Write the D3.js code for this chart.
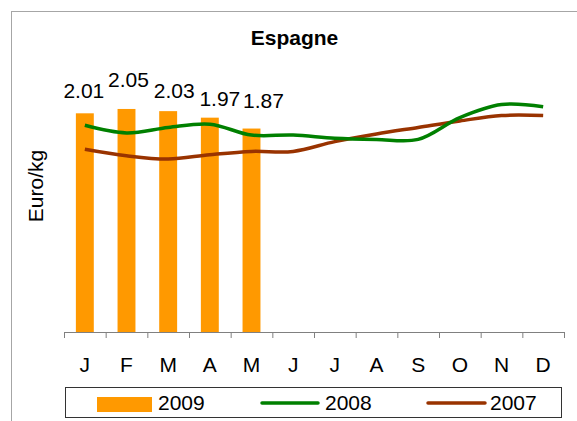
<!DOCTYPE html>
<html>
<head>
<meta charset="utf-8">
<script src="https://cdn.jsdelivr.net/npm/d3@7"></script>
<style>
  body { margin: 0; background: #fff; }
  svg { display: block; font-family: "Liberation Sans", Arial, sans-serif; }
</style>
</head>
<body>
<script>
// Chart data (Euro/kg)
var months = ["J", "F", "M", "A", "M", "J", "J", "A", "S", "O", "N", "D"];
var prix2009 = [2.01, 2.05, 2.03, 1.97, 1.87];
var prix2008 = [1.90, 1.83, 1.88, 1.91, 1.81, 1.81, 1.78, 1.77, 1.77, 1.97, 2.09, 2.07];
var prix2007 = [1.68, 1.62, 1.59, 1.63, 1.66, 1.66, 1.75, 1.82, 1.88, 1.94, 1.99, 1.99];
var seriesNames = ["2009", "2008", "2007"];

// label nudges (Excel labels were moved by hand)
var labelDx = [-1, 2, 6, 10, 12];
var labelDy = [-15, -22, -13, -12, -21];

var svgWidth = 577;
var svgHeight = 421;

var plot = { left: 64, right: 564, top: 60, bottom: 332 };

var colors = { bar: "#FF9900", l2008: "#008000", l2007: "#993300" };

var svg = d3.select("body")
    .append("svg")
    .attr("width", svgWidth)
    .attr("height", svgHeight);

// outer frame (cut at the right and bottom edges)
svg.append("rect")
    .attr("x", 11.5)
    .attr("y", 11.5)
    .attr("width", 620)
    .attr("height", 500)
    .attr("fill", "#fff")
    .attr("stroke", "#a6a6a6")
    .attr("stroke-width", 1);

var x = d3.scaleBand()
    .domain(d3.range(months.length))
    .range([plot.left, plot.right]);

var xEdge = d3.scaleLinear()
    .domain([0, months.length])
    .range([plot.left, plot.right]);

var y = d3.scaleLinear()
    .domain([0, 2.5])
    .range([plot.bottom, plot.top]);

var barW = x.bandwidth() * 0.43;
var cx = function(i) { return x(i) + x.bandwidth() / 2; };

// title
svg.append("text")
    .attr("x", 294.5)
    .attr("y", 45)
    .attr("text-anchor", "middle")
    .style("font-size", "21px")
    .style("font-weight", "bold")
    .text("Espagne");

// y label
svg.append("text")
    .attr("transform", "translate(43, 186) rotate(-90)")
    .attr("text-anchor", "middle")
    .style("font-size", "21px")
    .text("Euro/kg");

// bars 2009
svg.selectAll(".bar")
    .data(prix2009)
    .enter()
    .append("rect")
    .attr("class", "bar")
    .attr("x", (d, i) => cx(i) - barW / 2)
    .attr("y", d => y(d))
    .attr("width", barW)
    .attr("height", d => y(0) - y(d))
    .attr("fill", colors.bar);

// lines
var line = d3.line()
    .x((d, i) => cx(i))
    .y(d => y(d))
    .curve(d3.curveCatmullRom.alpha(0.5));

svg.append("path")
    .datum(prix2007)
    .attr("d", line)
    .attr("fill", "none")
    .attr("stroke", colors.l2007)
    .attr("stroke-width", 3.5)
    .attr("stroke-linejoin", "round");

svg.append("path")
    .datum(prix2008)
    .attr("d", line)
    .attr("fill", "none")
    .attr("stroke", colors.l2008)
    .attr("stroke-width", 3.5)
    .attr("stroke-linejoin", "round");

// value labels
svg.selectAll(".val")
    .data(prix2009)
    .enter()
    .append("text")
    .attr("class", "val")
    .attr("x", (d, i) => cx(i) + labelDx[i])
    .attr("y", (d, i) => y(d) + labelDy[i])
    .attr("text-anchor", "middle")
    .style("font-size", "21px")
    .text(d => d.toFixed(2));

// x axis: ticks at band edges, labels in the middle
var axisG = svg.append("g")
    .attr("transform", "translate(0," + plot.bottom + ")");

axisG.call(d3.axisBottom(xEdge).ticks(months.length).tickSize(6).tickFormat(""))
    .call(g => g.select(".domain").attr("stroke", "#808080").attr("d", "M" + plot.left + ",0.5H" + plot.right))
    .call(g => g.selectAll(".tick line").attr("stroke", "#808080"));

svg.append("g")
    .selectAll("text")
    .data(months)
    .enter()
    .append("text")
    .attr("x", (d, i) => cx(i))
    .attr("y", 372)
    .attr("text-anchor", "middle")
    .style("font-size", "21px")
    .text(d => d);

// legend
var legend = svg.append("g");
legend.append("rect")
    .attr("x", 65.5)
    .attr("y", 387.5)
    .attr("width", 496)
    .attr("height", 30)
    .attr("fill", "#fff")
    .attr("stroke", "#333")
    .attr("stroke-width", 1);

legend.append("rect")
    .attr("x", 97)
    .attr("y", 397)
    .attr("width", 55)
    .attr("height", 15)
    .attr("fill", colors.bar);

legend.append("line")
    .attr("x1", 262).attr("x2", 318)
    .attr("y1", 403).attr("y2", 403)
    .attr("stroke", colors.l2008)
    .attr("stroke-width", 3.5)
    .attr("stroke-linecap", "round");

legend.append("line")
    .attr("x1", 428).attr("x2", 485)
    .attr("y1", 403).attr("y2", 403)
    .attr("stroke", colors.l2007)
    .attr("stroke-width", 3.5)
    .attr("stroke-linecap", "round");

legend.selectAll(".leg-text")
    .data(seriesNames)
    .enter()
    .append("text")
    .attr("class", "leg-text")
    .attr("x", (d, i) => [158, 325, 490][i])
    .attr("y", 410)
    .style("font-size", "21px")
    .text(d => d);
</script>
</body>
</html>
